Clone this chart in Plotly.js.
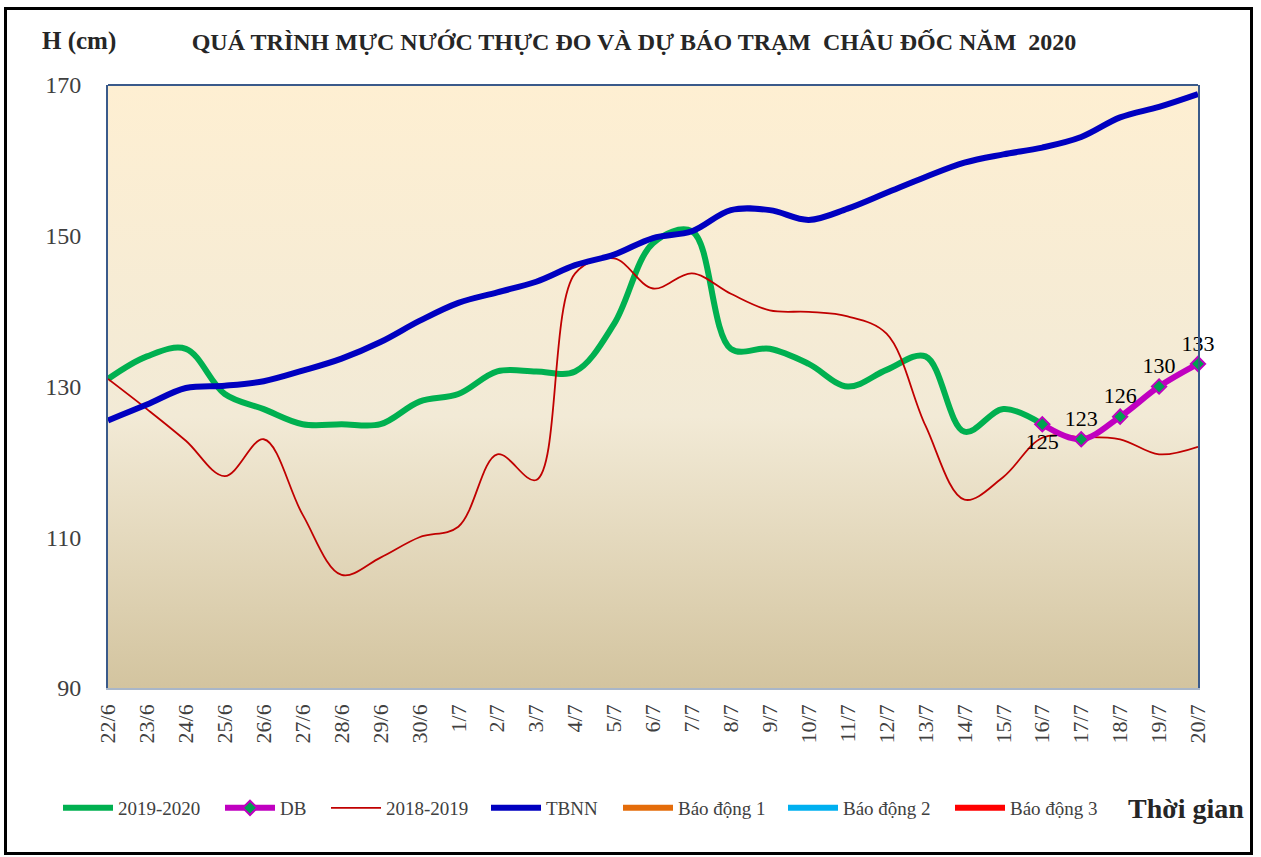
<!DOCTYPE html>
<html>
<head>
<meta charset="utf-8">
<script src="https://cdn.plot.ly/plotly-3.0.1.min.js"></script>
<style>
  html, body { margin: 0; padding: 0; background: #ffffff; }
  #wrap { position: relative; width: 1261px; height: 857px; }
  #chart { position: absolute; left: 0; top: 0; width: 1261px; height: 857px; }
  #frame { position: absolute; left: 4px; top: 7px; width: 1243px; height: 842px; border: 3px solid #000; pointer-events: none; }
</style>
</head>
<body>
<div id="wrap">
  <div id="chart"></div>
  <div id="frame"></div>
</div>
<script>
// Categories (dates)
const dates = ["22/6","23/6","24/6","25/6","26/6","27/6","28/6","29/6","30/6","1/7","2/7","3/7","4/7","5/7","6/7","7/7","8/7","9/7","10/7","11/7","12/7","13/7","14/7","15/7","16/7","17/7","18/7","19/7","20/7"];

// Observed 2019-2020 (until 16/7)
const obs2020 = [131, 134, 135, 129, 127, 125, 125, 125, 128, 129, 132, 132, 132, 138.3, 149, 150.6, 135, 135, 133, 130, 132.2, 134, 124, 127, 125];

// Forecast DB (16/7 - 20/7)
const dbDates = ["16/7","17/7","18/7","19/7","20/7"];
const dbValues = [125, 123, 126, 130, 133];

// 2018-2019
const obs2019 = [131, 127, 122.8, 118.1, 123, 113, 105, 107.3, 110, 111.4, 121, 117.6, 145, 147, 143, 145, 142.3, 140.1, 139.9, 139.3, 137, 124.8, 115, 118, 123.2, 123.3, 123, 121, 122];

// TBNN (average of many years)
const tbnn = [125.5, 127.6, 129.8, 130.1, 130.7, 132.1, 133.7, 135.9, 138.7, 141.1, 142.5, 143.9, 146.1, 147.5, 149.7, 150.6, 153.4, 153.4, 152.1, 153.6, 155.7, 157.8, 159.7, 160.8, 161.7, 163.1, 165.7, 167.1, 168.8];

// Alert levels (Châu Đốc), off the visible range
const bd1 = dates.map(() => 350);
const bd2 = dates.map(() => 400);
const bd3 = dates.map(() => 450);

const serif = "'Liberation Serif', 'Times New Roman', serif";

const traces = [
  { x: dates.slice(0, obs2020.length), y: obs2020, name: "2019-2020", mode: "lines", legend: "legend",
    line: { color: "#00B050", width: 6, shape: "spline", smoothing: 1 } },
  { x: dates, y: obs2019, name: "2018-2019", mode: "lines", legend: "legend3",
    line: { color: "#C00000", width: 1.8, shape: "spline", smoothing: 1 } },
  { x: dates, y: tbnn, name: "TBNN", mode: "lines", legend: "legend4",
    line: { color: "#0000C0", width: 6, shape: "spline", smoothing: 1 } },
  { x: dates, y: bd1, name: "Báo động 1", mode: "lines", legend: "legend5", line: { color: "#E46C0A", width: 6 } },
  { x: dates, y: bd2, name: "Báo động 2", mode: "lines", legend: "legend6", line: { color: "#00B0F0", width: 6 } },
  { x: dates, y: bd3, name: "Báo động 3", mode: "lines", legend: "legend7", line: { color: "#FF0000", width: 6 } },
  { x: dbDates, y: dbValues, name: "DB", mode: "lines+markers+text", legend: "legend2",
    line: { color: "#C000C0", width: 6, shape: "spline", smoothing: 1 },
    marker: { symbol: "diamond", size: 11, color: "#00A050", line: { color: "#C000C0", width: 2 } },
    text: dbValues.map(String),
    textposition: ["bottom center", "top center", "top center", "top center", "top center"],
    textfont: { family: serif, size: 22, color: "#000000" },
    cliponaxis: false }
];

const gradSvg = "<svg xmlns='http://www.w3.org/2000/svg' width='100' height='100' preserveAspectRatio='none'>" +
  "<defs><linearGradient id='g' x1='0' y1='0' x2='0' y2='1'>" +
  "<stop offset='0' stop-color='#FEEFD2'/>" +
  "<stop offset='0.55' stop-color='#F2EAD6'/>" +
  "<stop offset='1' stop-color='#D3C49F'/>" +
  "</linearGradient></defs><rect width='100' height='100' fill='url(#g)'/></svg>";
const gradUri = "data:image/svg+xml;charset=utf-8," + encodeURIComponent(gradSvg);

function mkLegend(px) {
  return {
    orientation: "h", xref: "container", yref: "container",
    x: (px - 4) / 1261, y: 1 - 808 / 857, xanchor: "left", yanchor: "middle",
    font: { family: serif, size: 19, color: "#404040" },
    bgcolor: "rgba(0,0,0,0)", itemwidth: 50
  };
}

const layout = {
  width: 1261, height: 857,
  margin: { l: 108, r: 63, t: 85, b: 169 },
  paper_bgcolor: "#ffffff",
  plot_bgcolor: "rgba(0,0,0,0)",
  showlegend: true,
  legend: mkLegend(62),
  legend2: mkLegend(224),
  legend3: mkLegend(330),
  legend4: mkLegend(490),
  legend5: mkLegend(622),
  legend6: mkLegend(787),
  legend7: mkLegend(954),
  title: {
    text: "<b>QUÁ TRÌNH MỰC NƯỚC THỰC ĐO VÀ DỰ BÁO TRẠM  CHÂU ĐỐC NĂM  2020</b>",
    xref: "container", yref: "container", x: 634 / 1261, y: 1 - 42 / 857,
    xanchor: "center", yanchor: "middle",
    font: { family: serif, size: 24, color: "#262626" }
  },
  xaxis: {
    type: "category", range: [0, 28],
    tickangle: -90, showgrid: false, zeroline: false,
    showline: true, linecolor: "#A9B6C8", linewidth: 1.5, mirror: false,
    ticks: "", ticklabelstandoff: 6,
    tickfont: { family: serif, size: 22, color: "#404040" },
    categoryorder: "array", categoryarray: dates
  },
  yaxis: {
    range: [90, 170], tickvals: [90, 110, 130, 150, 170],
    showgrid: false, zeroline: false,
    showline: true, linecolor: "#3A5A8A", linewidth: 2, mirror: true,
    ticks: "", ticklabelstandoff: 20,
    tickfont: { family: serif, size: 24, color: "#404040" }
  },
  images: [{
    source: gradUri, xref: "paper", yref: "paper", x: 0, y: 1, sizex: 1, sizey: 1,
    xanchor: "left", yanchor: "top", sizing: "stretch", layer: "below"
  }],
  shapes: [
    { type: "line", xref: "paper", yref: "paper", x0: 0, x1: 1, y0: 1, y1: 1,
      line: { color: "#3A5A8A", width: 2 } }
  ],
  annotations: [
    { text: "<b>H (cm)</b>", xref: "paper", yref: "paper", x: (40 - 108) / 1090, y: (688 - 41) / 603,
      xanchor: "left", yanchor: "middle", showarrow: false,
      font: { family: serif, size: 25, color: "#262626" } },
    { text: "<b>Thời gian</b>", xref: "paper", yref: "paper", x: (1246 - 108) / 1090, y: (688 - 808) / 603,
      xanchor: "right", yanchor: "middle", showarrow: false,
      font: { family: serif, size: 28, color: "#262626" } }
  ]
};

Plotly.newPlot("chart", traces, layout, { displayModeBar: false, staticPlot: true });
</script>
</body>
</html>
